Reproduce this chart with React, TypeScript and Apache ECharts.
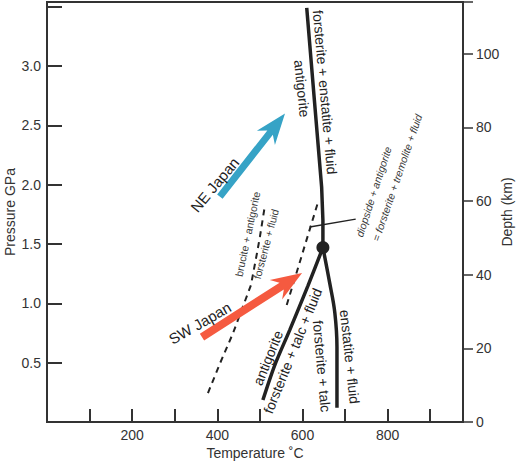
import React, { useEffect, useRef } from 'react';
import * as echarts from 'echarts';

// ---- Axis ranges & tick labels ----
const temperatureRange = [0, 977];
const pressureRange = [0, 3.54];
const depthRange = [0, 114];
const temperatureTickLabels = [200, 400, 600, 800];
const pressureTickLabels = [0.5, 1.0, 1.5, 2.0, 2.5, 3.0];
const depthTickLabels = [0, 20, 40, 60, 80, 100];

// ---- Reaction curves: [temperature °C, pressure GPa] ----
const foEnFluidCurve = [[610, 3.49], [628, 2.71], [645, 1.98], [648, 1.7], [648, 1.47]];
const foTalcFluidCurve = [[648, 1.47], [613, 1.15], [570, 0.775], [535, 0.48], [507, 0.185]];
const enFluidCurve = [[648, 1.47], [664, 1.17], [676, 0.92], [681, 0.63], [681, 0.12]];
const bruciteCurve = [[378, 0.244], [407, 0.5], [437, 0.75], [479, 1.154], [493, 1.42], [500, 1.56], [512, 1.83]];
const diopsideCurve = [[563, 0.986], [638, 1.87]];
const diopsideLeader = [[617, 1.643], [725, 1.71]];
const invariantPoint = [[648, 1.47]];

// ---- Subduction P-T paths: [T0, P0, T1, P1] ----
const neJapanPath = [406, 1.9, 559, 2.6];
const swJapanPath = [364, 0.716, 599, 1.255];

// ---- Annotation texts ----
const labelTexts = [
  'forsterite + enstatite + fluid',
  'antigorite',
  'NE Japan',
  'SW Japan',
  'brucite + antigorite',
  'forsterite + fluid',
  'diopside + antigorite',
  '= forsterite + tremolite + fluid',
  'antigorite',
  'forsterite + talc + fluid',
  'forsterite + talc',
  'enstatite + fluid',
];

// anchor [T, P], rotation (deg), size, style
const labelLayout = [
  { at: [652.6, 2.78], rot: -85, size: 14 },
  { at: [598.6, 2.81], rot: -84, size: 14 },
  { at: [394, 2.0], rot: 50, size: 15 },
  { at: [359, 0.834], rot: 30, size: 15 },
  { at: [472, 1.584], rot: 78, size: 10.5, small: true },
  { at: [514, 1.5], rot: 75, size: 10.5, small: true },
  { at: [768, 1.94], rot: 72, size: 10.5, small: true, italic: true },
  { at: [822, 2.06], rot: 71, size: 10.5, small: true, italic: true },
  { at: [519, 0.54], rot: 68, size: 14 },
  { at: [577, 0.6], rot: 68, size: 14 },
  { at: [645.5, 0.47], rot: -85, size: 14 },
  { at: [711, 0.55], rot: -84, size: 14 },
];

const FONT = '"Liberation Sans", Arial, Helvetica, sans-serif';
const INK = '#222';
const AXIS = '#333';
const arrowColors = ['#36a3c6', '#f55a40'];
const arrowShaft = [7, 8];

export default function App() {
  const ref = useRef<HTMLDivElement>(null);

  useEffect(() => {
    if (!ref.current) return;
    const chart = echarts.init(ref.current, undefined, { renderer: 'svg' });

    const lineSeries = (data: number[][], width: number, dashed = false, smooth: number | boolean = false) => ({
      type: 'line',
      data,
      xAxisIndex: 0,
      yAxisIndex: 0,
      symbol: 'none',
      smooth,
      silent: true,
      lineStyle: { color: INK, width, type: dashed ? [6, 5] : 'solid', cap: 'butt' },
      z: 3,
    });

    const option: any = {
      animation: false,
      grid: {
        left: 47, top: 2, right: 54, bottom: 40,
        outerBoundsMode: 'none',
        containLabel: false,
        show: true, borderColor: AXIS, borderWidth: 2, backgroundColor: 'transparent',
      },
      xAxis: {
        type: 'value',
        min: temperatureRange[0],
        max: temperatureRange[1],
        interval: 100,
        name: 'Temperature ˚C',
        nameLocation: 'middle',
        nameGap: 24,
        nameMoveOverlap: false,
        nameTextStyle: { fontFamily: FONT, fontSize: 14, color: AXIS },
        axisLine: { show: true, lineStyle: { color: AXIS, width: 2 } },
        axisTick: { show: true, inside: true, length: 13, lineStyle: { color: AXIS, width: 2 } },
        axisLabel: {
          fontFamily: FONT, fontSize: 14, color: AXIS, margin: 6,
          formatter: (v: number) => (temperatureTickLabels.includes(Math.round(v)) ? String(Math.round(v)) : ''),
        },
        splitLine: { show: false },
      },
      yAxis: [
        {
          type: 'value',
          min: pressureRange[0],
          max: pressureRange[1],
          interval: 0.5,
          name: 'Pressure GPa',
          nameLocation: 'middle',
          nameRotate: 90,
          nameGap: 30,
          nameMoveOverlap: false,
          nameTextStyle: { fontFamily: FONT, fontSize: 14, color: AXIS },
          axisLine: { show: true, lineStyle: { color: AXIS, width: 2 } },
          axisTick: { show: true, inside: true, length: 15, lineStyle: { color: AXIS, width: 2 } },
          axisLabel: {
            fontFamily: FONT, fontSize: 14, color: AXIS, margin: 6,
            formatter: (v: number) => {
              const r = Math.round(v * 10) / 10;
              return pressureTickLabels.some((p) => Math.abs(p - v) < 1e-6) ? r.toFixed(1) : '';
            },
          },
          splitLine: { show: false },
        },
        {
          type: 'value',
          position: 'right',
          min: depthRange[0],
          max: depthRange[1],
          interval: 20,
          name: 'Depth (km)',
          nameLocation: 'middle',
          nameRotate: 90,
          nameGap: 37,
          nameMoveOverlap: false,
          nameTextStyle: { fontFamily: FONT, fontSize: 14, color: AXIS },
          axisLine: { show: true, lineStyle: { color: AXIS, width: 2 } },
          axisTick: { show: true, inside: false, length: 10, lineStyle: { color: AXIS, width: 1.5 } },
          axisLabel: {
            fontFamily: FONT, fontSize: 14, color: AXIS, margin: 13,
            formatter: (v: number) => (depthTickLabels.includes(Math.round(v)) && Math.abs(v - Math.round(v)) < 1e-6 ? String(Math.round(v)) : ''),
          },
          splitLine: { show: false },
        },
      ],
      series: [
        lineSeries(bruciteCurve, 2, true),
        lineSeries(diopsideCurve, 2, true),
        lineSeries(diopsideLeader, 1.5),
        {
          type: 'custom',
          coordinateSystem: 'cartesian2d',
          xAxisIndex: 0,
          yAxisIndex: 0,
          silent: true,
          z: 4,
          data: [neJapanPath, swJapanPath],
          encode: { x: [0, 2], y: [1, 3] },
          renderItem: (params: any, api: any) => {
            const p0 = api.coord([api.value(0), api.value(1)]);
            const p1 = api.coord([api.value(2), api.value(3)]);
            const dx = p1[0] - p0[0];
            const dy = p1[1] - p0[1];
            const len = Math.hypot(dx, dy);
            const u = [dx / len, dy / len];
            const n = [-u[1], u[0]];
            const w = arrowShaft[params.dataIndex] / 2;
            const L = 31;
            const H = 11.5;
            const b = [p1[0] - u[0] * L, p1[1] - u[1] * L];
            const nt = [p1[0] - u[0] * L * 0.78, p1[1] - u[1] * L * 0.78];
            const pts = [
              [p0[0] + n[0] * w, p0[1] + n[1] * w],
              [nt[0] + n[0] * w, nt[1] + n[1] * w],
              [b[0] + n[0] * H, b[1] + n[1] * H],
              [p1[0], p1[1]],
              [b[0] - n[0] * H, b[1] - n[1] * H],
              [nt[0] - n[0] * w, nt[1] - n[1] * w],
              [p0[0] - n[0] * w, p0[1] - n[1] * w],
            ];
            return { type: 'polygon', shape: { points: pts }, style: { fill: arrowColors[params.dataIndex] } };
          },
        },
        lineSeries(foEnFluidCurve, 3.5),
        lineSeries(foTalcFluidCurve, 3.5, false, 0.3),
        lineSeries(enFluidCurve, 3.5, false, 0.4),
        {
          type: 'scatter',
          data: invariantPoint,
          symbol: 'circle',
          symbolSize: 13,
          silent: true,
          itemStyle: { color: INK, opacity: 1 },
          z: 5,
        },
      ],
    };
    chart.setOption(option);

    const graphics = labelTexts.map((text, i) => {
      const l: any = labelLayout[i];
      const [x, y] = chart.convertToPixel({ gridIndex: 0 }, l.at) as number[];
      return {
        type: 'text',
        x,
        y,
        rotation: (l.rot * Math.PI) / 180,
        silent: true,
        z: 10,
        style: {
          text,
          font: `${l.italic ? 'italic ' : ''}${l.size}px ${FONT}`,
          fill: l.small ? '#3a3a3a' : INK,
          textAlign: 'center',
          textVerticalAlign: 'middle',
          align: 'center',
          verticalAlign: 'middle',
        },
      };
    });
    chart.setOption({ graphic: graphics });

    return () => chart.dispose();
  }, []);

  return <div ref={ref} style={{ position: 'fixed', left: 0, top: 0, width: 517, height: 462, background: '#fff' }} />;
}
